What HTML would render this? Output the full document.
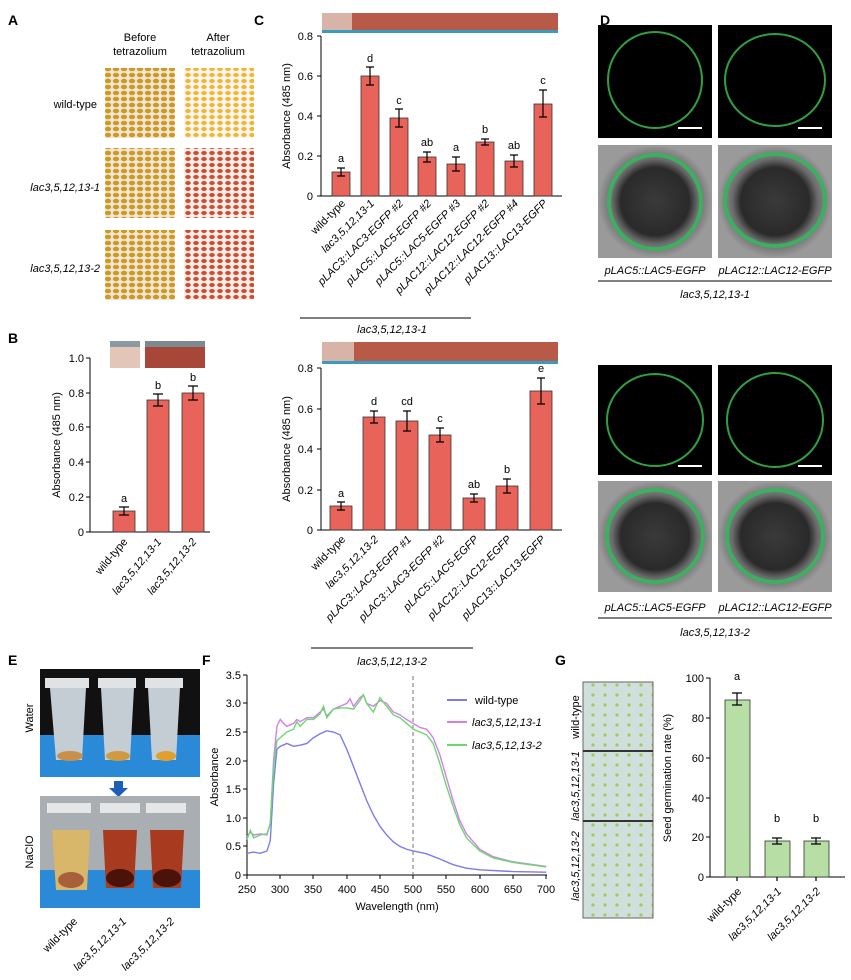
<!DOCTYPE html>
<html><head><meta charset="utf-8"><style>
html,body{margin:0;padding:0;background:#fff}
svg{display:block;font-family:"Liberation Sans",Arial,sans-serif}
.t{font-size:11px;fill:#000}
.it{font-size:11px;font-style:italic;fill:#000}
.L{font-size:14px;font-weight:bold}
.ax{stroke:#000;stroke-width:1;fill:none}
.bar{fill:#e8645a;stroke:#333;stroke-width:0.8}
.gbar{fill:#b7dea4;stroke:#333;stroke-width:0.8}
.eb{stroke:#000;stroke-width:1.2;fill:none}
.cv{fill:none;stroke-width:1.4;vector-effect:non-scaling-stroke}
</style></head><body>
<svg width="851" height="980" viewBox="0 0 851 980" xmlns="http://www.w3.org/2000/svg">
<defs>
<pattern id="sy" width="8" height="6" patternUnits="userSpaceOnUse"><rect width="8" height="6" fill="#ece6dc"/><ellipse cx="4" cy="3" rx="3.2" ry="2.3" fill="#cf9a1e"/></pattern>
<pattern id="sw" width="8" height="6" patternUnits="userSpaceOnUse"><rect width="8" height="6" fill="#f8f4f0"/><ellipse cx="4" cy="3" rx="2.8" ry="2" fill="#f3b62a"/></pattern>
<pattern id="sr" width="8" height="6" patternUnits="userSpaceOnUse"><rect width="8" height="6" fill="#f6ecea"/><ellipse cx="4" cy="3" rx="2.8" ry="2" fill="#d24a28"/></pattern>
<pattern id="gs" width="12" height="10" patternUnits="userSpaceOnUse"><rect width="12" height="10" fill="#cfe0dc"/><circle cx="5" cy="5" r="1.6" fill="#a6c85a"/></pattern>
<radialGradient id="gray"><stop offset="0" stop-color="#3a3a3a"/><stop offset="0.6" stop-color="#2a2a2a"/><stop offset="0.75" stop-color="#6a6a6a"/><stop offset="1" stop-color="#9a9a9a"/></radialGradient>
</defs>

<!-- Panel A -->
<text x="8" y="25" class="L">A</text>
<text x="140" y="41" class="t" text-anchor="middle">Before</text>
<text x="140" y="55" class="t" text-anchor="middle">tetrazolium</text>
<text x="218" y="41" class="t" text-anchor="middle">After</text>
<text x="218" y="55" class="t" text-anchor="middle">tetrazolium</text>
<rect x="105" y="68" width="70" height="70" fill="url(#sy)"/>
<rect x="184" y="68" width="70" height="70" fill="url(#sw)"/>
<rect x="105" y="148" width="70" height="70" fill="url(#sy)"/>
<rect x="184" y="148" width="70" height="70" fill="url(#sr)"/>
<rect x="105" y="230" width="70" height="70" fill="url(#sy)"/>
<rect x="184" y="230" width="70" height="70" fill="url(#sr)"/>
<text x="97" y="108" class="t" text-anchor="end">wild-type</text>
<text x="100" y="191" class="it" text-anchor="end">lac3,5,12,13-1</text>
<text x="100" y="272" class="it" text-anchor="end">lac3,5,12,13-2</text>

<!-- Panel B -->
<text x="8" y="343" class="L">B</text>
<rect x="110" y="341" width="30" height="27" fill="#e4c6b8"/>
<rect x="145" y="341" width="60" height="27" fill="#a9463a"/>
<rect x="145" y="341" width="60" height="6" fill="#7a8a90"/>
<rect x="110" y="341" width="30" height="6" fill="#8a9aa0"/>
<path class="ax" d="M90,358 V532 H210"/>
<g class="t" text-anchor="end">
<text x="84" y="536">0</text><text x="84" y="501">0.2</text><text x="84" y="466">0.4</text><text x="84" y="431">0.6</text><text x="84" y="397">0.8</text><text x="84" y="362">1.0</text></g>
<path class="ax" d="M86,532H90M86,497H90M86,462H90M86,427H90M86,393H90M86,358H90"/>
<text transform="translate(60,445) rotate(-90)" class="t" text-anchor="middle">Absorbance (485 nm)</text>
<rect class="bar" x="113" y="511" width="22" height="21"/>
<rect class="bar" x="147" y="400" width="22" height="132"/>
<rect class="bar" x="182" y="393" width="22" height="139"/>
<path class="eb" d="M124,507V515M119,507H129M119,515H129M158,394V406M153,394H163M153,406H163M193,386V400M188,386H198M188,400H198"/>
<g class="t" text-anchor="middle"><text x="124" y="502">a</text><text x="158" y="389">b</text><text x="193" y="381">b</text></g>
<text transform="translate(128,542) rotate(-50)" class="t" text-anchor="end">wild-type</text>
<text transform="translate(162,542) rotate(-50)" class="it" text-anchor="end">lac3,5,12,13-1</text>
<text transform="translate(197,542) rotate(-50)" class="it" text-anchor="end">lac3,5,12,13-2</text>

<!-- Panel C top -->
<text x="254" y="25" class="L">C</text>
<rect x="322" y="13" width="236" height="20" fill="#b85a48"/>
<rect x="322" y="13" width="30" height="20" fill="#d8b4a8"/>
<rect x="322" y="30" width="236" height="3" fill="#3a9ac0"/>
<path class="ax" d="M321,36V196H562"/>
<path class="ax" d="M317,196H321M317,156H321M317,116H321M317,76H321M317,36H321"/>
<g class="t" text-anchor="end"><text x="313" y="200">0</text><text x="313" y="160">0.2</text><text x="313" y="120">0.4</text><text x="313" y="80">0.6</text><text x="313" y="40">0.8</text></g>
<text transform="translate(290,116) rotate(-90)" class="t" text-anchor="middle" font-size="12">Absorbance (485 nm)</text>
<rect class="bar" x="332" y="172" width="18" height="24"/>
<rect class="bar" x="361" y="76" width="18" height="120"/>
<rect class="bar" x="390" y="118" width="18" height="78"/>
<rect class="bar" x="418" y="157" width="18" height="39"/>
<rect class="bar" x="447" y="164" width="18" height="32"/>
<rect class="bar" x="476" y="142" width="18" height="54"/>
<rect class="bar" x="505" y="161" width="18" height="35"/>
<rect class="bar" x="534" y="104" width="18" height="92"/>
<path class="eb" d="M341,168V176M337,168H345M337,176H345M370,67V85M366,67H374M366,85H374M399,109V127M395,109H403M395,127H403M427,152V162M423,152H431M423,162H431M456,157V171M452,157H460M452,171H460M485,139V145M481,139H489M481,145H489M514,155V167M510,155H518M510,167H518M543,90V117M539,90H547M539,117H547"/>
<g class="t" text-anchor="middle"><text x="341" y="162">a</text><text x="370" y="62">d</text><text x="399" y="104">c</text><text x="427" y="146">ab</text><text x="456" y="151">a</text><text x="485" y="133">b</text><text x="514" y="149">ab</text><text x="543" y="84">c</text></g>
<g>
<text transform="translate(346,204) rotate(-45)" class="t" text-anchor="end">wild-type</text>
<text transform="translate(375,204) rotate(-45)" class="it" text-anchor="end">lac3,5,12,13-1</text>
<text transform="translate(404,204) rotate(-45)" class="it" text-anchor="end">pLAC3::LAC3-EGFP #2</text>
<text transform="translate(432,204) rotate(-45)" class="it" text-anchor="end">pLAC5::LAC5-EGFP #2</text>
<text transform="translate(461,204) rotate(-45)" class="it" text-anchor="end">pLAC5::LAC5-EGFP #3</text>
<text transform="translate(490,204) rotate(-45)" class="it" text-anchor="end">pLAC12::LAC12-EGFP #2</text>
<text transform="translate(519,204) rotate(-45)" class="it" text-anchor="end">pLAC12::LAC12-EGFP #4</text>
<text transform="translate(548,204) rotate(-45)" class="it" text-anchor="end">pLAC13::LAC13-EGFP</text>
</g>
<path class="ax" d="M300,318H471"/>
<text x="392" y="333" class="it" text-anchor="middle">lac3,5,12,13-1</text>

<!-- Panel C bottom -->
<rect x="322" y="342" width="236" height="22" fill="#b85a48"/>
<rect x="322" y="342" width="32" height="22" fill="#d8b4a8"/>
<rect x="322" y="361" width="236" height="3" fill="#3a9ac0"/>
<path class="ax" d="M321,368V530H562"/>
<path class="ax" d="M317,530H321M317,490H321M317,449H321M317,409H321M317,368H321"/>
<g class="t" text-anchor="end"><text x="313" y="534">0</text><text x="313" y="494">0.2</text><text x="313" y="453">0.4</text><text x="313" y="413">0.6</text><text x="313" y="372">0.8</text></g>
<text transform="translate(290,449) rotate(-90)" class="t" text-anchor="middle" font-size="12">Absorbance (485 nm)</text>
<rect class="bar" x="330" y="506" width="22" height="24"/>
<rect class="bar" x="363" y="417" width="22" height="113"/>
<rect class="bar" x="396" y="421" width="22" height="109"/>
<rect class="bar" x="429" y="435" width="22" height="95"/>
<rect class="bar" x="463" y="498" width="22" height="32"/>
<rect class="bar" x="496" y="486" width="22" height="44"/>
<rect class="bar" x="530" y="391" width="22" height="139"/>
<path class="eb" d="M341,502V510M337,502H345M337,510H345M374,411V423M370,411H378M370,423H378M407,411V431M403,411H411M403,431H411M440,428V442M436,428H444M436,442H444M474,494V502M470,494H478M470,502H478M507,479V493M503,479H511M503,493H511M541,378V404M537,378H545M537,404H545"/>
<g class="t" text-anchor="middle"><text x="341" y="497">a</text><text x="374" y="405">d</text><text x="407" y="405">cd</text><text x="440" y="422">c</text><text x="474" y="488">ab</text><text x="507" y="473">b</text><text x="541" y="372">e</text></g>
<text transform="translate(346,540) rotate(-45)" class="t" text-anchor="end">wild-type</text>
<text transform="translate(379,540) rotate(-45)" class="it" text-anchor="end">lac3,5,12,13-2</text>
<text transform="translate(412,540) rotate(-45)" class="it" text-anchor="end">pLAC3::LAC3-EGFP #1</text>
<text transform="translate(445,540) rotate(-45)" class="it" text-anchor="end">pLAC3::LAC3-EGFP #2</text>
<text transform="translate(479,540) rotate(-45)" class="it" text-anchor="end">pLAC5::LAC5-EGFP</text>
<text transform="translate(512,540) rotate(-45)" class="it" text-anchor="end">pLAC12::LAC12-EGFP</text>
<text transform="translate(546,540) rotate(-45)" class="it" text-anchor="end">pLAC13::LAC13-EGFP</text>
<path class="ax" d="M311,648H473"/>
<text x="392" y="665" class="it" text-anchor="middle">lac3,5,12,13-2</text>

<!-- Panel D -->
<text x="600" y="25" class="L">D</text>
<g>
<rect x="598" y="25" width="114" height="113" fill="#000"/>
<ellipse cx="655" cy="80" rx="47" ry="48" fill="none" stroke="#2fa040" stroke-width="2"/>
<rect x="718" y="25" width="114" height="113" fill="#000"/>
<ellipse cx="775" cy="80" rx="50" ry="46" fill="none" stroke="#2fa040" stroke-width="2"/>
<rect x="598" y="145" width="114" height="113" fill="url(#gray)"/>
<ellipse cx="655" cy="202" rx="46" ry="47" fill="none" stroke="#3cb060" stroke-width="4"/>
<rect x="718" y="145" width="114" height="113" fill="url(#gray)"/>
<ellipse cx="775" cy="200" rx="50" ry="46" fill="none" stroke="#3cb060" stroke-width="4"/>
<path d="M678,128H702M798,128H822" stroke="#fff" stroke-width="2"/>
</g>
<text x="655" y="274" class="it" text-anchor="middle">pLAC5::LAC5-EGFP</text>
<text x="775" y="274" class="it" text-anchor="middle">pLAC12::LAC12-EGFP</text>
<path class="ax" d="M598,281H832"/>
<text x="715" y="298" class="it" text-anchor="middle">lac3,5,12,13-1</text>
<g>
<rect x="598" y="365" width="114" height="110" fill="#000"/>
<ellipse cx="655" cy="420" rx="48" ry="46" fill="none" stroke="#2fa040" stroke-width="2"/>
<rect x="718" y="365" width="114" height="110" fill="#000"/>
<ellipse cx="775" cy="420" rx="48" ry="47" fill="none" stroke="#2fa040" stroke-width="2"/>
<rect x="598" y="481" width="114" height="111" fill="url(#gray)"/>
<ellipse cx="655" cy="536" rx="48" ry="46" fill="none" stroke="#3cb060" stroke-width="4"/>
<rect x="718" y="481" width="114" height="111" fill="url(#gray)"/>
<ellipse cx="775" cy="536" rx="48" ry="46" fill="none" stroke="#3cb060" stroke-width="4"/>
<path d="M678,466H702M798,466H822" stroke="#fff" stroke-width="2"/>
</g>
<text x="655" y="611" class="it" text-anchor="middle">pLAC5::LAC5-EGFP</text>
<text x="775" y="611" class="it" text-anchor="middle">pLAC12::LAC12-EGFP</text>
<path class="ax" d="M598,618H832"/>
<text x="715" y="636" class="it" text-anchor="middle">lac3,5,12,13-2</text>

<!-- Panel E -->
<text x="8" y="665" class="L">E</text>
<rect x="40" y="669" width="160" height="108" fill="#111"/>
<rect x="40" y="735" width="160" height="42" fill="#2a8ad8"/>
<rect x="45" y="678" width="44" height="10" fill="#dfe3e6"/>
<rect x="98" y="678" width="38" height="10" fill="#dfe3e6"/>
<rect x="145" y="678" width="38" height="10" fill="#dfe3e6"/>
<path d="M50,688H86L82,760H56Z" fill="#c4ccd4"/>
<path d="M101,688H134L130,760H105Z" fill="#c4ccd4"/>
<path d="M148,688H180L176,760H152Z" fill="#c4ccd4"/>
<ellipse cx="70" cy="756" rx="13" ry="5" fill="#c8904a"/><ellipse cx="118" cy="756" rx="12" ry="5" fill="#d09a40"/><ellipse cx="166" cy="756" rx="10" ry="5" fill="#e0a030"/>
<path d="M114,781H123V788H128L118.5,797L109,788H114Z" fill="#1d5fb8"/>
<rect x="40" y="796" width="160" height="112" fill="#a8aeb2"/>
<rect x="40" y="870" width="160" height="38" fill="#2a8ad8"/>
<rect x="47" y="803" width="44" height="10" fill="#e4e6e8"/>
<rect x="100" y="803" width="40" height="10" fill="#e4e6e8"/>
<rect x="146" y="803" width="40" height="10" fill="#e4e6e8"/>
<path d="M52,830H90L87,890H56Z" fill="#d8b66a"/>
<path d="M103,830H137L134,888H106Z" fill="#a83a20"/>
<path d="M150,830H184L181,888H153Z" fill="#a83a20"/>
<ellipse cx="71" cy="880" rx="13" ry="8" fill="#a8603a"/>
<ellipse cx="120" cy="878" rx="14" ry="9" fill="#4a1208"/>
<ellipse cx="167" cy="878" rx="14" ry="9" fill="#4a1208"/>
<text transform="translate(33,718) rotate(-90)" class="t" text-anchor="middle" font-size="12">Water</text>
<text transform="translate(33,852) rotate(-90)" class="t" text-anchor="middle" font-size="12">NaClO</text>
<text transform="translate(78,922) rotate(-45)" class="t" text-anchor="end">wild-type</text>
<text transform="translate(127,922) rotate(-45)" class="it" text-anchor="end">lac3,5,12,13-1</text>
<text transform="translate(175,922) rotate(-45)" class="it" text-anchor="end">lac3,5,12,13-2</text>

<!-- Panel F -->
<text x="202" y="665" class="L">F</text>
<path class="ax" d="M247,675V875H547"/>
<g class="t" text-anchor="end">
<text x="241" y="879">0</text><text x="241" y="850">0.5</text><text x="241" y="822">1.0</text><text x="241" y="793">1.5</text><text x="241" y="765">2.0</text><text x="241" y="736">2.5</text><text x="241" y="707">3.0</text><text x="241" y="679">3.5</text></g>
<path class="ax" d="M243,875H247M243,846H247M243,818H247M243,789H247M243,761H247M243,732H247M243,703H247M243,675H247"/>
<g class="t" text-anchor="middle">
<text x="247" y="893">250</text><text x="280" y="893">300</text><text x="313" y="893">350</text><text x="347" y="893">400</text><text x="380" y="893">450</text><text x="413" y="893">500</text><text x="446" y="893">550</text><text x="480" y="893">600</text><text x="513" y="893">650</text><text x="546" y="893">700</text></g>
<path class="ax" d="M247,875V879M280,875V879M313,875V879M347,875V879M380,875V879M413,875V879M446,875V879M480,875V879M513,875V879M546,875V879"/>
<text x="397" y="910" class="t" text-anchor="middle">Wavelength (nm)</text>
<text transform="translate(218,777) rotate(-90)" class="t" text-anchor="middle">Absorbance</text>
<path d="M413,676V875" stroke="#777" stroke-dasharray="4,3" fill="none"/>
<g transform="translate(80.75,875) scale(0.665,-57.2)">
<polyline class="cv" stroke="#7b7bf0" points="250,.38 260,.4 270,.38 280,.42 285,.6 290,1.6 295,2.2 300,2.25 310,2.3 320,2.25 330,2.27 340,2.3 350,2.4 360,2.47 370,2.52 380,2.5 390,2.45 400,2.2 410,1.9 420,1.6 430,1.3 440,1.05 450,.85 460,.7 470,.58 480,.5 490,.45 500,.42 520,.37 540,.28 560,.18 580,.12 600,.09 650,.06 700,.05"/>
<polyline class="cv" stroke="#d47ef0" points="250,.67 255,.75 260,.7 270,.72 280,.7 285,.9 290,2.0 295,2.6 300,2.72 305,2.65 310,2.6 320,2.65 325,2.72 330,2.68 340,2.75 350,2.75 360,2.85 365,2.9 370,2.78 380,2.9 390,2.95 400,3.0 405,3.08 410,2.95 420,3.1 425,3.15 430,3.0 440,2.95 450,3.05 460,3.0 470,2.85 480,2.8 490,2.72 500,2.65 510,2.58 520,2.55 530,2.4 540,2.1 550,1.7 560,1.3 570,.95 580,.72 600,.45 620,.32 650,.23 700,.15"/>
<polyline class="cv" stroke="#6cd86c" points="250,.62 255,.78 260,.65 270,.7 280,.72 285,.9 290,1.9 295,2.35 300,2.4 310,2.5 320,2.55 325,2.68 330,2.6 340,2.72 350,2.72 360,2.82 365,2.95 370,2.75 380,2.9 390,2.92 400,2.92 410,2.9 420,3.05 425,3.15 430,3.0 440,2.85 450,3.1 460,2.95 470,2.8 480,2.75 490,2.65 500,2.55 510,2.5 520,2.45 530,2.3 540,1.95 550,1.55 560,1.2 570,.88 580,.65 600,.42 620,.3 650,.22 700,.14"/>
</g>
<path d="M447,700H467" stroke="#7b7bf0" stroke-width="2"/><text x="475" y="704" class="t" font-size="12">wild-type</text>
<path d="M447,722H467" stroke="#d47ef0" stroke-width="2"/><text x="472" y="726" class="it" font-size="12">lac3,5,12,13-1</text>
<path d="M447,745H467" stroke="#6cd86c" stroke-width="2"/><text x="472" y="749" class="it" font-size="12">lac3,5,12,13-2</text>

<!-- Panel G -->
<text x="555" y="665" class="L">G</text>
<rect x="583" y="682" width="70" height="236" fill="url(#gs)" stroke="#666"/>
<path d="M583,751H653M583,821H653" stroke="#333" stroke-width="2"/>
<text transform="translate(579,717) rotate(-90)" class="t" text-anchor="middle">wild-type</text>
<text transform="translate(579,786) rotate(-90)" class="it" text-anchor="middle">lac3,5,12,13-1</text>
<text transform="translate(579,866) rotate(-90)" class="it" text-anchor="middle">lac3,5,12,13-2</text>
<path class="ax" d="M710,678V877H845"/>
<g class="t" text-anchor="end" font-size="12"><text x="704" y="881">0</text><text x="704" y="841">20</text><text x="704" y="802">40</text><text x="704" y="762">60</text><text x="704" y="722">80</text><text x="704" y="682">100</text></g>
<path class="ax" d="M706,877H710M706,837H710M706,798H710M706,758H710M706,718H710M706,678H710"/>
<text transform="translate(671,778) rotate(-90)" class="t" text-anchor="middle" font-size="12">Seed germination rate (%)</text>
<rect class="gbar" x="725" y="700" width="25" height="177"/>
<rect class="gbar" x="765" y="841" width="25" height="36"/>
<rect class="gbar" x="804" y="841" width="25" height="36"/>
<path class="eb" d="M737,693V705M732,693H742M732,705H742M777,838V844M772,838H782M772,844H782M816,838V844M811,838H821M811,844H821M737,877V881M777,877V881M816,877V881"/>
<g class="t" text-anchor="middle" font-size="12"><text x="737" y="680">a</text><text x="777" y="822">b</text><text x="816" y="822">b</text></g>
<text transform="translate(742,892) rotate(-45)" class="t" text-anchor="end" font-size="12">wild-type</text>
<text transform="translate(782,892) rotate(-45)" class="it" text-anchor="end" font-size="12">lac3,5,12,13-1</text>
<text transform="translate(821,892) rotate(-45)" class="it" text-anchor="end" font-size="12">lac3,5,12,13-2</text>
</svg>
</body></html>
